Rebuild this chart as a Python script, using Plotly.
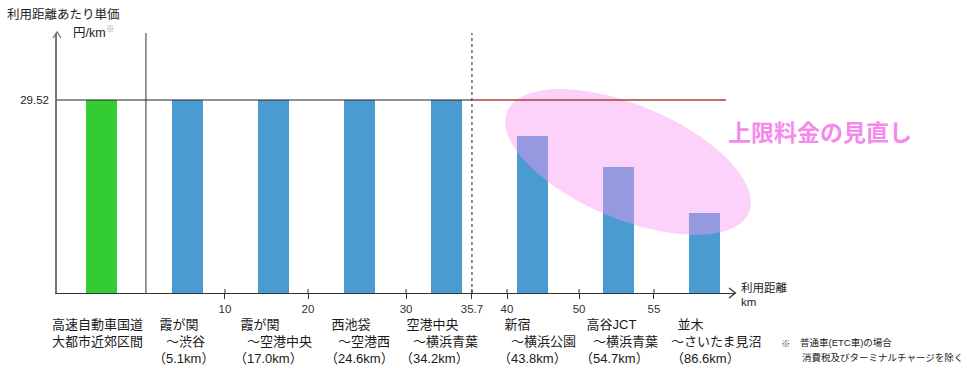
import math
import plotly.graph_objects as go

# ---------------- data ----------------
categories = [
    ["高速自動車国道", "大都市近郊区間"],
    ["\u2002霞が関", "\u3000～渋谷", "（5.1km）"],
    ["\u2002霞が関", "\u3000～空港中央", "（17.0km）"],
    ["\u2002西池袋", "\u3000～空港西", "（24.6km）"],
    ["\u2002空港中央", "\u3000～横浜青葉", "（34.2km）"],
    ["\u2002新宿", "\u3000～横浜公園", "（43.8km）"],
    ["\u2002高谷JCT", "\u3000～横浜青葉", "（54.7km）"],
    ["\u2002並木", "～さいたま見沼", "（86.6km）"],
]
unit_price = [29.52, 29.52, 29.52, 29.52, 29.52, 24.06, 19.27, 12.17]
bar_colors = ["#33CC33"] + ["#4A9BD2"] * 7
cap_value = 29.52
km_tick_labels = ["10", "20", "30", "35.7", "40", "50", "55"]

# ---------------- layout geometry ----------------
W, H = 967, 368
PL, PR, PT, PB = 57, 735, 33, 293
slot_px = 86.15
slot0_px = 101.5
x_range = [(PL - slot0_px) / slot_px, (PR - slot0_px) / slot_px]
y_range = [0, cap_value * (PB - PT) / (PB - 100)]

km_tick_pos = [1.433, 2.397, 3.535, 4.300, 4.707, 5.543, 6.413]
label_shift = [-52, -37, -42, -37, -48, -36, -40, -36]


def px2x(px):
    return (px - slot0_px) / slot_px


def pxx(px):
    return (px - PL) / (PR - PL)


def pxy(py):
    return (PB - py) / (PB - PT)


slots = list(range(len(unit_price)))

fig = go.Figure()
fig.add_trace(go.Bar(
    x=slots, y=unit_price, width=0.36,
    marker=dict(color=bar_colors, line=dict(width=0)),
    hoverinfo="skip", showlegend=False,
))

FONT = "Liberation Sans, Arial, 'Noto Sans CJK JP', sans-serif"
JFONT = "'Noto Sans CJK JP', sans-serif"

shapes = []

# ellipse highlight (drawn first so the lines sit on top of it)
cx, cy, a, b, th = 628, 162, 131, 57, math.radians(22.7)
pts = []
for i in range(73):
    t = 2 * math.pi * i / 72
    px = cx + a * math.cos(t) * math.cos(th) - b * math.sin(t) * math.sin(th)
    py = cy + a * math.cos(t) * math.sin(th) + b * math.sin(t) * math.cos(th)
    pts.append(f"{pxx(px):.5f},{pxy(py):.5f}")
path = "M " + " L ".join(pts) + " Z"
shapes.append(dict(type="path", xref="paper", yref="paper", path=path,
                   fillcolor="rgba(248,150,243,0.43)", line=dict(width=0), layer="above"))

# divider after the motorway bar
shapes.append(dict(type="line", xref="x", yref="paper", x0=0.516, x1=0.516,
                   y0=0, y1=1.0, line=dict(color="#333", width=1)))
# dashed line at 35.7 km
shapes.append(dict(type="line", xref="x", yref="paper", x0=km_tick_pos[3], x1=km_tick_pos[3],
                   y0=0, y1=1.0, line=dict(color="#444", width=1.2, dash="3px,3px")))
# cap line
shapes.append(dict(type="line", xref="x", yref="y", x0=x_range[0], x1=km_tick_pos[3],
                   y0=cap_value, y1=cap_value, line=dict(color="#222", width=1)))
shapes.append(dict(type="line", xref="x", yref="y", x0=km_tick_pos[3], x1=px2x(726),
                   y0=cap_value, y1=cap_value, line=dict(color="#A8403C", width=1.6)))

# small upward part of the cross-shaped ticks
for tp in km_tick_pos:
    shapes.append(dict(type="line", xref="x", yref="paper", x0=tp, x1=tp,
                       y0=0, y1=pxy(289), line=dict(color="#333", width=1)))

# axis arrow heads
shapes.append(dict(type="path", xref="paper", yref="paper",
                   path=f"M {pxx(53)},{pxy(38)} L {pxx(57)},{pxy(32)} L {pxx(61)},{pxy(38)}",
                   line=dict(color="#777", width=1.3)))
shapes.append(dict(type="path", xref="paper", yref="paper",
                   path=f"M {pxx(729)},{pxy(288)} L {pxx(735.5)},{pxy(293)} L {pxx(729)},{pxy(298)}",
                   line=dict(color="#333", width=1.3)))

annotations = []


def ann(text, x, y, size, color="#222", xanchor="left", yanchor="middle", family=FONT, align="left"):
    annotations.append(dict(text=text, xref="paper", yref="paper", x=pxx(x), y=pxy(y),
                            xanchor=xanchor, yanchor=yanchor, showarrow=False, align=align,
                            font=dict(size=size, color=color, family=family)))


ann("利用距離あたり単価", 5, 15, 12.5)
ann("円/km<sup><span style='color:#999'>※</span></sup>", 71, 32, 12.5)
ann("利用距離", 739, 287, 11.5)
ann("km", 739, 302, 11.5)
ann("※", 779, 343, 9.5, color="#555")
ann("普通車(ETC車)の場合", 798, 342, 9.5)
ann("消費税及びターミナルチャージを除く", 800, 357, 9.5)
ann("<b>上限料金の見直し</b>", 726, 131, 23, color="#F58AEC", family=JFONT)

for i, lines in enumerate(categories):
    annotations.append(dict(
        text="<br>".join(lines), xref="x", yref="paper", x=slots[i], y=0,
        xanchor="left", yanchor="top", xshift=label_shift[i], yshift=-22,
        showarrow=False, align="left",
        font=dict(size=13, color="#1a1a1a", family=FONT)))

fig.update_layout(
    width=W, height=H, autosize=False,
    margin=dict(l=PL, r=W - PR, t=PT, b=H - PB, pad=0),
    paper_bgcolor="white", plot_bgcolor="white",
    shapes=shapes, annotations=annotations,
    bargap=0,
    xaxis=dict(range=x_range, showgrid=False, zeroline=False,
               showline=True, linecolor="#333", linewidth=1.3,
               tickmode="array", tickvals=km_tick_pos, ticktext=km_tick_labels,
               ticks="outside", ticklen=5, tickcolor="#333", tickwidth=1,
               tickfont=dict(size=11.5, color="#333", family=FONT)),
    yaxis=dict(range=y_range, showgrid=False, zeroline=False,
               showline=True, linecolor="#777", linewidth=1.5,
               tickmode="array", tickvals=[cap_value], ticktext=["29.52"],
               ticks="", ticklabelstandoff=4,
               tickfont=dict(size=11.5, color="#222", family=FONT)),
)

fig.write_html("out.html")
